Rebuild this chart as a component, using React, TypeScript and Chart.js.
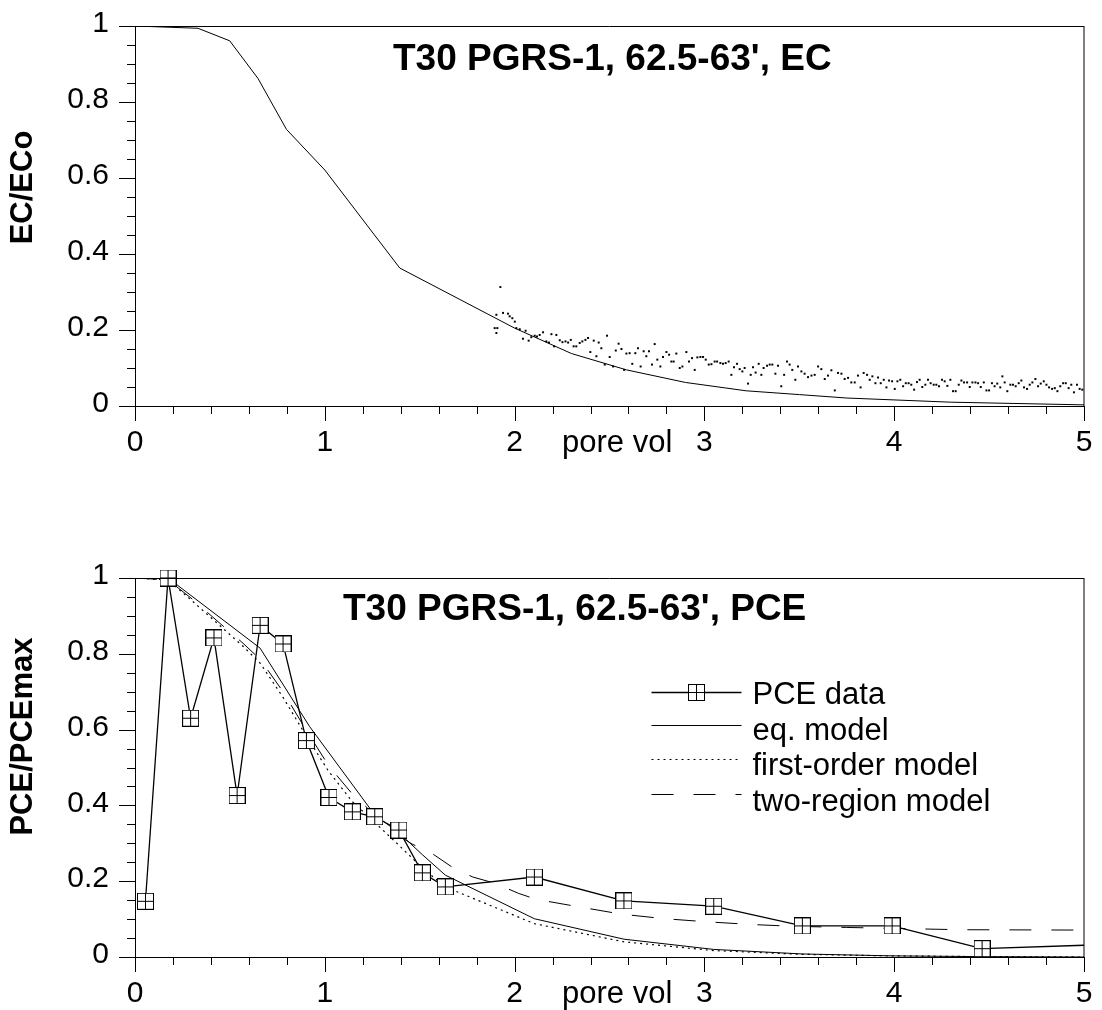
import React, { useEffect, useRef } from 'react';
import { Chart, registerables } from 'chart.js';
Chart.register(...registerables);

const FONT = '"Liberation Sans", Arial, Helvetica, sans-serif';

// ---------- Top panel: EC ----------
const ecTitle = "T30 PGRS-1, 62.5-63', EC";
const ecYTitle = 'EC/ECo';
const ecModelX = [0, 0.332, 0.499, 0.648, 0.798, 1.0, 1.395, 2.0, 2.3, 2.59, 2.9, 3.22, 3.5, 3.75, 4.3, 5.0];
const ecModelY = [1, 0.994, 0.961, 0.862, 0.728, 0.621, 0.363, 0.205, 0.138, 0.095, 0.062, 0.040, 0.030, 0.021, 0.010, 0.003];
const ecData: [number, number][] = [
  [1.895, 0.205], [1.904, 0.192], [1.909, 0.205], [1.904, 0.240], [1.925, 0.313], [1.939, 0.245], [1.965, 0.243], [1.974, 0.236],
  [1.988, 0.231], [2.001, 0.222], [2.009, 0.205], [2.027, 0.202], [2.044, 0.177], [2.058, 0.198], [2.074, 0.172],
  [2.088, 0.181], [2.106, 0.185], [2.118, 0.183], [2.132, 0.187], [2.150, 0.194], [2.167, 0.170], [2.181, 0.167], [2.194, 0.189],
  [2.208, 0.157], [2.220, 0.187], [2.238, 0.173], [2.252, 0.168], [2.268, 0.170], [2.282, 0.167], [2.296, 0.174], [2.311, 0.157],
  [2.325, 0.157], [2.343, 0.166], [2.357, 0.170], [2.373, 0.174], [2.387, 0.179], [2.399, 0.142], [2.417, 0.172], [2.431, 0.131],
  [2.443, 0.167], [2.457, 0.152], [2.475, 0.109], [2.487, 0.185], [2.501, 0.129], [2.519, 0.104], [2.533, 0.146], [2.548, 0.164],
  [2.563, 0.150], [2.577, 0.095], [2.589, 0.138], [2.606, 0.139], [2.620, 0.111], [2.636, 0.139], [2.650, 0.152], [2.664, 0.104],
  [2.680, 0.144], [2.694, 0.131], [2.708, 0.144], [2.724, 0.109], [2.738, 0.163], [2.752, 0.122], [2.768, 0.104], [2.782, 0.129],
  [2.800, 0.142], [2.814, 0.135], [2.826, 0.117], [2.838, 0.117], [2.852, 0.138], [2.870, 0.100], [2.884, 0.104], [2.905, 0.142],
  [2.919, 0.117], [2.935, 0.126], [2.949, 0.095], [2.963, 0.128], [2.979, 0.129], [2.993, 0.129], [3.007, 0.122], [3.023, 0.109],
  [3.037, 0.110], [3.054, 0.117], [3.067, 0.117], [3.084, 0.113], [3.098, 0.111], [3.112, 0.113], [3.128, 0.117], [3.142, 0.082],
  [3.156, 0.102], [3.172, 0.111], [3.186, 0.097], [3.200, 0.091], [3.212, 0.100], [3.230, 0.059], [3.244, 0.082], [3.256, 0.102],
  [3.270, 0.088], [3.286, 0.111], [3.300, 0.082], [3.312, 0.100], [3.330, 0.106], [3.344, 0.109], [3.358, 0.109], [3.374, 0.085],
  [3.388, 0.106], [3.405, 0.052], [3.420, 0.082], [3.435, 0.117], [3.449, 0.109], [3.463, 0.095], [3.479, 0.069], [3.493, 0.104],
  [3.511, 0.091], [3.528, 0.085], [3.546, 0.076], [3.564, 0.080], [3.581, 0.082], [3.599, 0.104], [3.616, 0.097], [3.634, 0.071],
  [3.651, 0.080], [3.669, 0.094], [3.687, 0.041], [3.704, 0.087], [3.722, 0.085], [3.739, 0.071], [3.757, 0.074], [3.774, 0.062],
  [3.792, 0.062], [3.809, 0.080], [3.823, 0.049], [3.839, 0.087], [3.857, 0.082], [3.871, 0.069], [3.885, 0.078], [3.901, 0.060],
  [3.915, 0.075], [3.929, 0.060], [3.945, 0.069], [3.959, 0.049], [3.973, 0.067], [3.989, 0.065], [4.003, 0.045], [4.017, 0.065],
  [4.032, 0.069], [4.047, 0.052], [4.061, 0.060], [4.076, 0.060], [4.090, 0.056], [4.105, 0.043], [4.120, 0.063], [4.134, 0.069],
  [4.148, 0.050], [4.164, 0.056], [4.178, 0.069], [4.192, 0.060], [4.208, 0.056], [4.222, 0.056], [4.236, 0.052], [4.252, 0.069],
  [4.266, 0.065], [4.280, 0.053], [4.296, 0.069], [4.310, 0.039], [4.324, 0.039], [4.340, 0.056], [4.354, 0.067], [4.368, 0.062],
  [4.384, 0.062], [4.398, 0.050], [4.412, 0.062], [4.428, 0.062], [4.442, 0.060], [4.456, 0.050], [4.472, 0.062], [4.486, 0.041],
  [4.500, 0.041], [4.515, 0.060], [4.529, 0.052], [4.543, 0.059], [4.559, 0.049], [4.570, 0.078], [4.582, 0.062], [4.596, 0.039],
  [4.612, 0.056], [4.626, 0.056], [4.640, 0.052], [4.656, 0.060], [4.670, 0.067], [4.684, 0.049], [4.700, 0.045], [4.714, 0.056],
  [4.728, 0.062], [4.744, 0.071], [4.758, 0.052], [4.772, 0.059], [4.788, 0.065], [4.802, 0.056], [4.816, 0.049], [4.832, 0.045],
  [4.846, 0.047], [4.860, 0.039], [4.875, 0.052], [4.890, 0.060], [4.904, 0.060], [4.919, 0.047], [4.933, 0.056], [4.947, 0.036],
  [4.963, 0.056], [4.977, 0.045], [4.991, 0.043],
];

// ---------- Bottom panel: PCE ----------
const pceTitle = "T30 PGRS-1, 62.5-63', PCE";
const pceYTitle = 'PCE/PCEmax';
const pceX = [0.055, 0.174, 0.293, 0.416, 0.538, 0.659, 0.780, 0.903, 1.022, 1.145, 1.263, 1.39, 1.514, 1.635, 2.104, 2.576, 3.049, 3.516, 3.989, 4.463, 5.0];
const pceY = [0.147, 1.0, 0.630, 0.842, 0.426, 0.875, 0.826, 0.571, 0.421, 0.383, 0.370, 0.335, 0.222, 0.185, 0.211, 0.148, 0.134, 0.082, 0.082, 0.022, 0.031];
const eqX = [0, 0.174, 0.659, 0.92, 1.263, 1.39, 1.514, 1.635, 2.104, 2.576, 3.049, 3.516, 3.989, 4.463, 5.0];
const eqY = [1, 1.0, 0.815, 0.608, 0.375, 0.328, 0.27, 0.216, 0.101, 0.047, 0.020, 0.008, 0.003, 0.001, 0.0];
const foX = [0, 0.174, 0.3, 0.446, 0.569, 0.66, 0.78, 0.9, 1.02, 1.145, 1.263, 1.39, 1.514, 1.635, 2.104, 2.576, 3.049, 3.516, 3.989, 4.463, 5.0];
const foY = [1, 0.995, 0.94, 0.875, 0.82, 0.775, 0.685, 0.585, 0.49, 0.41, 0.355, 0.295, 0.235, 0.185, 0.088, 0.040, 0.017, 0.007, 0.003, 0.001, 0.0];
const trX = [0, 0.174, 0.3, 0.446, 0.569, 0.66, 0.78, 0.9, 1.02, 1.145, 1.263, 1.39, 1.46, 1.56, 1.68, 1.78, 1.9, 2.02, 2.115, 2.343, 2.563, 2.791, 3.01, 3.239, 3.467, 3.748, 4.345, 5.0];
const trY = [1, 0.995, 0.945, 0.881, 0.828, 0.785, 0.70, 0.60, 0.505, 0.43, 0.375, 0.32, 0.298, 0.275, 0.234, 0.211, 0.194, 0.168, 0.152, 0.132, 0.113, 0.101, 0.093, 0.086, 0.081, 0.078, 0.072, 0.071];
const legendLabels = ['PCE data', 'eq. model', 'first-order model', 'two-region model'];

// ---------- Axis ticks ----------
const xMajorTicks = [0, 1, 2, 3, 4, 5];
const xMinorTicks = [0.2, 0.4, 0.6, 0.8, 1.2, 1.4, 1.6, 1.8, 2.2, 2.4, 2.6, 2.8, 3.2, 3.4, 3.6, 3.8, 4.2, 4.4, 4.6, 4.8];
const yMajorTicks = [0, 0.2, 0.4, 0.6, 0.8, 1];
const yMinorTicks = [0.05, 0.1, 0.15, 0.25, 0.3, 0.35, 0.45, 0.5, 0.55, 0.65, 0.7, 0.75, 0.85, 0.9, 0.95];
const xAxisLabel = 'pore vol';

const pts = (xs: number[], ys: number[]) => xs.map((x, i) => ({ x, y: ys[i] }));

function makeMarker(): HTMLCanvasElement {
  const c = document.createElement('canvas');
  c.width = 17;
  c.height = 17;
  const g = c.getContext('2d')!;
  g.fillStyle = '#fff';
  g.fillRect(0, 0, 17, 17);
  g.strokeStyle = '#000';
  g.lineWidth = 1;
  g.strokeRect(0.5, 0.5, 16, 16);
  g.beginPath();
  g.moveTo(8.5, 0.5);
  g.lineTo(8.5, 16.5);
  g.moveTo(0.5, 8.5);
  g.lineTo(16.5, 8.5);
  g.stroke();
  return c;
}

interface Deco {
  title: string;
  titleX: number;
  titleDy: number;
  yTitle: string;
  yTitleDy: number;
  legend: boolean;
}

function decoPlugin(d: Deco) {
  return {
    id: 'deco',
    afterDraw(chart: any) {
      const { ctx, chartArea: a, scales } = chart;
      const xs = scales.x;
      const ys = scales.y;
      ctx.save();
      ctx.strokeStyle = '#000';
      ctx.lineWidth = 1;
      ctx.setLineDash([]);
      ctx.beginPath();
      // frame top / right
      ctx.moveTo(a.left, Math.round(a.top) + 0.5);
      ctx.lineTo(a.right, Math.round(a.top) + 0.5);
      ctx.moveTo(Math.round(a.right), a.top);
      ctx.lineTo(Math.round(a.right), a.bottom);
      // y ticks
      yMajorTicks.forEach((v) => {
        const p = Math.round(ys.getPixelForValue(v)) + 0.5;
        ctx.moveTo(a.left - 16, p);
        ctx.lineTo(a.left, p);
      });
      yMinorTicks.forEach((v) => {
        const p = Math.round(ys.getPixelForValue(v)) + 0.5;
        ctx.moveTo(a.left - 8, p);
        ctx.lineTo(a.left, p);
      });
      xMajorTicks.forEach((v) => {
        const p = Math.round(xs.getPixelForValue(v)) + 0.5;
        ctx.moveTo(p, a.bottom);
        ctx.lineTo(p, a.bottom + 15);
      });
      xMinorTicks.forEach((v) => {
        const p = Math.round(xs.getPixelForValue(v)) + 0.5;
        ctx.moveTo(p, a.bottom);
        ctx.lineTo(p, a.bottom + 8);
      });
      ctx.stroke();

      ctx.fillStyle = '#000';
      // main title
      ctx.font = `bold 37px ${FONT}`;
      ctx.textAlign = 'left';
      ctx.textBaseline = 'alphabetic';
      ctx.fillText(d.title, d.titleX, a.top + d.titleDy);
      // x axis label
      ctx.font = `31px ${FONT}`;
      ctx.fillText(xAxisLabel, 562, a.bottom + 45.5);
      // y axis title
      ctx.save();
      ctx.translate(23.5, (a.top + a.bottom) / 2 + d.yTitleDy);
      ctx.rotate(-Math.PI / 2);
      ctx.font = `bold 31px ${FONT}`;
      ctx.textAlign = 'center';
      ctx.textBaseline = 'middle';
      ctx.fillText(d.yTitle, 0, 0);
      ctx.restore();

      if (d.legend) {
        const lineY = [114, 146.5, 180.5, 215.5];
        const textY = [126, 161.5, 197, 232.5];
        const x1 = 651.5;
        const x2 = 741.5;
        chart.data.datasets.forEach((ds: any, i: number) => {
          const y = a.top + lineY[i];
          ctx.save();
          ctx.strokeStyle = '#000';
          ctx.lineWidth = ds.borderWidth;
          ctx.setLineDash(ds.borderDash || []);
          ctx.beginPath();
          ctx.moveTo(x1, Math.round(y) + 0.5);
          ctx.lineTo(x2, Math.round(y) + 0.5);
          ctx.stroke();
          ctx.restore();
          if (ds.pointStyle && typeof ds.pointStyle === 'object') {
            const m = ds.pointStyle as HTMLCanvasElement;
            ctx.drawImage(m, Math.round(696.5 - m.width / 2), Math.round(y) - 8);
          }
          ctx.font = `31px ${FONT}`;
          ctx.textAlign = 'left';
          ctx.textBaseline = 'alphabetic';
          ctx.fillStyle = '#000';
          ctx.fillText(ds.label, 752.5, a.top + textY[i]);
        });
      }
      ctx.restore();
    },
  };
}

function baseScales(xHeight: number) {
  const tickFont = { family: FONT, size: 30 };
  return {
    x: {
      type: 'linear' as const,
      min: 0,
      max: 5,
      afterFit: (s: any) => {
        s.height = xHeight;
        s.paddingLeft = 0;
        s.paddingRight = 0;
        s.paddingTop = 0;
        s.paddingBottom = 0;
      },
      grid: { display: false, drawTicks: false, tickLength: 0 },
      border: { display: true, color: '#000', width: 1 },
      ticks: {
        stepSize: 1,
        padding: 19,
        color: '#000',
        font: tickFont,
        maxRotation: 0,
        autoSkip: false,
        callback: (v: any) => String(Math.round(Number(v))),
      },
    },
    y: {
      type: 'linear' as const,
      min: 0,
      max: 1,
      afterFit: (s: any) => {
        s.width = 135;
        s.paddingLeft = 0;
        s.paddingRight = 0;
        s.paddingTop = 0;
        s.paddingBottom = 0;
      },
      grid: { display: false, drawTicks: false, tickLength: 0 },
      border: { display: true, color: '#000', width: 1 },
      ticks: {
        stepSize: 0.2,
        padding: 26,
        labelOffset: -2,
        color: '#000',
        font: tickFont,
        autoSkip: false,
        callback: (v: any) => String(Number(Number(v).toFixed(1))),
      },
    },
  };
}

const commonPlugins = {
  legend: { display: false },
  tooltip: { enabled: false },
  title: { display: false },
};

export default function App() {
  const topRef = useRef<HTMLCanvasElement>(null);
  const botRef = useRef<HTMLCanvasElement>(null);

  useEffect(() => {
    Chart.defaults.font.family = FONT;
    const marker = makeMarker();

    const top = new Chart(topRef.current!, {
      type: 'scatter',
      data: {
        datasets: [
          {
            label: 'EC data',
            data: ecData.map(([x, y]) => ({ x, y })),
            showLine: false,
            pointStyle: 'rect',
            pointRadius: 1.4,
            pointBorderWidth: 0,
            pointBackgroundColor: '#000',
            borderColor: '#000',
          },
          {
            label: 'EC model',
            data: pts(ecModelX, ecModelY),
            showLine: true,
            borderColor: '#000',
            borderWidth: 1,
            pointRadius: 0,
            tension: 0,
          },
        ],
      },
      options: {
        responsive: false,
        animation: false,
        events: [],
        layout: { autoPadding: false, padding: { left: 0, top: 26, right: 18, bottom: 0 } },
        scales: baseScales(94) as any,
        plugins: commonPlugins as any,
      },
      plugins: [
        decoPlugin({ title: ecTitle, titleX: 393, titleDy: 44, yTitle: ecYTitle, yTitleDy: -28.5, legend: false }),
      ],
    });

    const pceRadius = pceX.map((_, i) => (i === pceX.length - 1 ? 0 : 8));
    const bot = new Chart(botRef.current!, {
      type: 'scatter',
      data: {
        datasets: [
          {
            label: legendLabels[0],
            data: pts(pceX, pceY),
            showLine: true,
            borderColor: '#000',
            borderWidth: 1.3,
            pointStyle: marker as any,
            pointRadius: pceRadius,
            clip: false as any,
            tension: 0,
          },
          {
            label: legendLabels[1],
            data: pts(eqX, eqY),
            showLine: true,
            borderColor: '#000',
            borderWidth: 1,
            pointRadius: 0,
            tension: 0,
          },
          {
            label: legendLabels[2],
            data: pts(foX, foY),
            showLine: true,
            borderColor: '#000',
            borderWidth: 1.2,
            borderDash: [2, 4],
            pointRadius: 0,
            tension: 0,
          },
          {
            label: legendLabels[3],
            data: pts(trX, trY),
            showLine: true,
            borderColor: '#000',
            borderWidth: 1,
            borderDash: [22, 20],
            pointRadius: 0,
            tension: 0,
          },
        ],
      },
      options: {
        responsive: false,
        animation: false,
        events: [],
        layout: { autoPadding: false, padding: { left: 0, top: 78, right: 18, bottom: 0 } },
        scales: baseScales(53) as any,
        plugins: commonPlugins as any,
      },
      plugins: [
        decoPlugin({ title: pceTitle, titleX: 343, titleDy: 42, yTitle: pceYTitle, yTitleDy: -31, legend: true }),
      ],
    });

    return () => {
      top.destroy();
      bot.destroy();
    };
  }, []);

  return (
    <div style={{ position: 'absolute', left: 0, top: 0, width: 1102, height: 1010, background: '#fff' }}>
      <canvas ref={topRef} width={1102} height={500} style={{ display: 'block', width: 1102, height: 500 }} />
      <canvas ref={botRef} width={1102} height={510} style={{ display: 'block', width: 1102, height: 510 }} />
    </div>
  );
}
